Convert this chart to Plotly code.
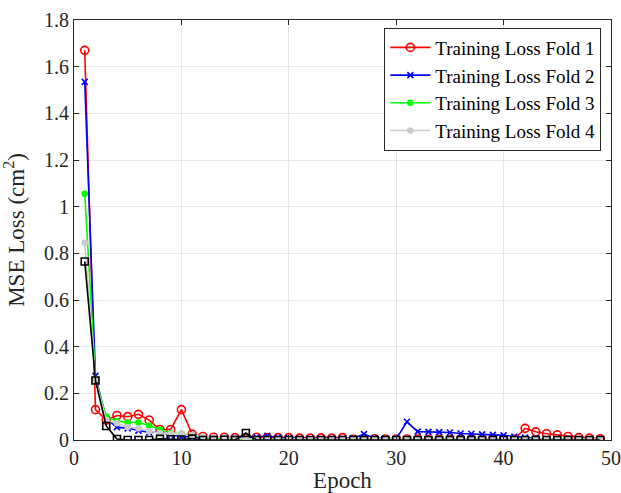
import plotly.graph_objects as go

# Training loss per epoch for each cross-validation fold
epochs = list(range(1, 50))

fold1 = [1.67, 0.13, 0.085, 0.105, 0.10, 0.11, 0.085, 0.045, 0.045, 0.13,
         0.025, 0.015, 0.012, 0.012, 0.01, 0.005, 0.012, 0.01, 0.01, 0.01,
         0.008, 0.008, 0.009, 0.008, 0.01, 0.003, 0.005, 0.005, 0.004, 0.004,
         0.004, 0.004, 0.003, 0.003, 0.003, 0.003, 0.003, 0.003, 0.003, 0.003,
         0.003, 0.05, 0.035, 0.027, 0.022, 0.015, 0.01, 0.008, 0.005]

fold2 = [1.535, 0.275, 0.09, 0.055, 0.05, 0.04, 0.032, 0.035, 0.02, 0.015,
         0.012, 0.01, 0.008, 0.008, 0.008, 0.008, 0.012, 0.018, 0.01, 0.008,
         0.006, 0.006, 0.006, 0.006, 0.006, 0.008, 0.025, 0.008, 0.006, 0.005,
         0.078, 0.036, 0.035, 0.034, 0.032, 0.028, 0.027, 0.024, 0.022, 0.02,
         0.015, 0.01, 0.006, 0.005, 0.004, 0.004, 0.004, 0.003, 0.003]

fold3 = [1.055, 0.26, 0.1, 0.08, 0.075, 0.075, 0.062, 0.045, 0.03, 0.028,
         0.02, 0.012, 0.008, 0.006, 0.006, 0.005, 0.003, 0.003, 0.003, 0.003,
         0.003, 0.003, 0.003, 0.003, 0.003, 0.003, 0.003, 0.003, 0.003, 0.003,
         0.003, 0.003, 0.003, 0.003, 0.003, 0.003, 0.003, 0.003, 0.003, 0.003,
         0.003, 0.003, 0.003, 0.003, 0.003, 0.003, 0.003, 0.003, 0.003]

fold4 = [0.845, 0.26, 0.085, 0.072, 0.056, 0.05, 0.038, 0.03, 0.027, 0.028,
         0.02, 0.015, 0.012, 0.01, 0.008, 0.004, 0.004, 0.004, 0.004, 0.004,
         0.004, 0.004, 0.004, 0.004, 0.004, 0.004, 0.004, 0.004, 0.004, 0.004,
         0.004, 0.004, 0.004, 0.004, 0.004, 0.004, 0.004, 0.004, 0.004, 0.004,
         0.004, 0.004, 0.004, 0.004, 0.004, 0.004, 0.004, 0.004, 0.004]

fold5 = [0.765, 0.255, 0.06, 0.004, 0.0, 0.0, 0.0, 0.005, 0.003, 0.002,
         0.006, 0.0, 0.0, 0.001, 0.0, 0.03, 0.0, 0.0, 0.0, 0.0,
         0.0, 0.0, 0.0, 0.0, 0.0, 0.0, 0.0, 0.0, 0.0, 0.0,
         0.0, 0.0, 0.0, 0.0, 0.0, 0.0, 0.0, 0.0, 0.0, 0.0,
         0.0, 0.0, 0.0, 0.0, 0.0, 0.0, 0.0, 0.0, 0.0]

series = [
    ("Training Loss Fold 1", fold1, "#ff0000", "circle-open", 8, True),
    ("Training Loss Fold 2", fold2, "#0000ff", "x-thin-open", 6, True),
    ("Training Loss Fold 3", fold3, "#00ff00", "circle", 5, True),
    ("Training Loss Fold 4", fold4, "#cccccc", "circle", 5, True),
    ("Training Loss Fold 5", fold5, "#000000", "square-open", 7, False),
]

FONT = "Liberation Serif, DejaVu Serif, serif"

fig = go.Figure()
for name, vals, color, symbol, size, show in series:
    fig.add_trace(go.Scatter(
        x=epochs, y=vals, name=name, mode="lines+markers",
        line=dict(color=color, width=1.6),
        marker=dict(symbol=symbol, size=size, color=color,
                    line=dict(color=color, width=1.6)),
        showlegend=show,
    ))

axis_common = dict(
    showline=True, linecolor="#262626", linewidth=1, mirror="allticks",
    ticks="inside", ticklen=5, tickcolor="#262626",
    showgrid=True, gridcolor="#e6e6e6", gridwidth=1,
    zeroline=False, automargin=False,
    tickfont=dict(family=FONT, size=20, color="#262626"),
)

fig.update_layout(
    width=621, height=493,
    margin=dict(l=74, r=10, t=20, b=53),
    paper_bgcolor="white", plot_bgcolor="white",
    font=dict(family=FONT, color="#262626"),
    xaxis=dict(range=[0, 50], dtick=10,
               title=dict(text="Epoch", font=dict(family=FONT, size=23)),
               **axis_common),
    yaxis=dict(range=[0, 1.8], dtick=0.2,
               title=dict(text="MSE Loss (cm<sup>2</sup>)", font=dict(family=FONT, size=23)),
               **axis_common),
    legend=dict(x=0.982, y=0.982, xanchor="right", yanchor="top",
                bgcolor="white", bordercolor="#262626", borderwidth=1,
                font=dict(family=FONT, size=19, color="#000000"),
                tracegroupgap=0, itemwidth=40),
)

fig.write_html("out.html")
